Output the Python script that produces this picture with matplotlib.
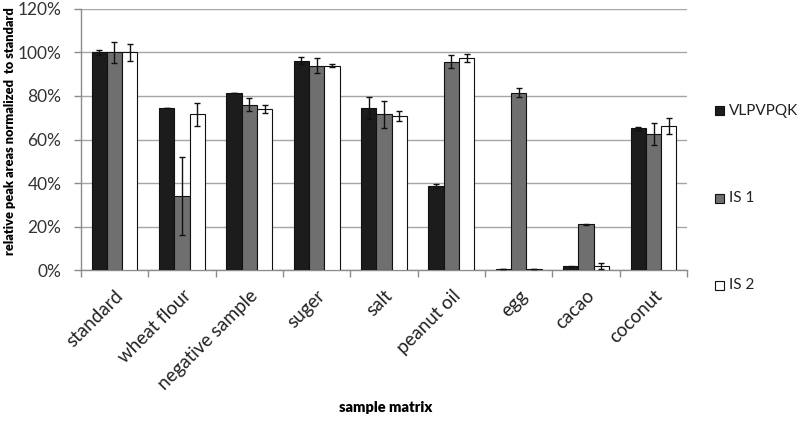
import matplotlib
matplotlib.use("Agg")
import matplotlib.pyplot as plt
import numpy as np
from matplotlib.ticker import FuncFormatter, FixedLocator

categories = ["standard", "wheat flour", "negative sample", "suger", "salt",
              "peanut oil", "egg", "cacao", "coconut"]
series_names = ["VLPVPQK", "IS 1", "IS 2"]
vlpvpqk = [100, 74.5, 81.5, 96.2, 74.5, 38.5, 0.3, 1.8, 65.2]
vlpvpqk_err = [1.0, 0, 0, 1.5, 5.0, 1.0, 0, 0.3, 0.7]
is1 = [100, 34.0, 76.0, 94.0, 71.5, 95.7, 81.5, 21.0, 62.5]
is1_err = [5.0, 18.0, 3.0, 3.6, 6.0, 3.0, 2.0, 0.2, 5.0]
is2 = [100, 71.5, 74.0, 94.0, 70.8, 97.5, 0.5, 1.8, 66.3]
is2_err = [4.0, 5.5, 2.0, 0.5, 2.5, 1.7, 0.2, 1.5, 3.8]
yticks = [0, 20, 40, 60, 80, 100, 120]

colors = ["#1c1c1c", "#6f6f6f", "#ffffff"]
plt.rcParams['font.family'] = ["Lato", 'DejaVu Sans']

fig = plt.figure(figsize=(8, 4.26), dpi=100)
ax = fig.add_axes([0.101, 0.366, 0.758, 0.613])

x = np.arange(len(categories))
w = 0.227
vals = [vlpvpqk, is1, is2]
errs = [vlpvpqk_err, is1_err, is2_err]
for i in range(3):
    ax.bar(x + (i - 1) * w, vals[i], w, color=colors[i], edgecolor="#111111",
           linewidth=0.8, label=series_names[i], zorder=3,
           yerr=errs[i], error_kw=dict(ecolor="#111111", elinewidth=1.0,
                                       capsize=2.5, capthick=1.0, zorder=4))

ax.set_xlim(-0.5, len(categories) - 0.5)
ax.set_ylim(0, 120)
ax.set_yticks(yticks)
ax.yaxis.set_major_formatter(FuncFormatter(lambda v, p: f"{int(v)}%"))
ax.grid(axis="y", color="#a6a6a6", linewidth=1.0, zorder=0)
ax.set_axisbelow(True)

ax.set_xticks(x)
ax.set_xticklabels(categories, rotation=45, ha="right", va="top",
                   rotation_mode="anchor", fontsize=13.5)
ax.tick_params(axis="x", length=0, pad=12)
ax.xaxis.set_minor_locator(FixedLocator(np.arange(-0.5, len(categories), 1.0)))
ax.tick_params(axis="x", which="minor", length=5, color="#8c8c8c", width=1)
ax.tick_params(axis="y", length=5, color="#8c8c8c", width=1, labelsize=12.5,
               labelcolor="#333333", pad=9)
for lbl in ax.get_xticklabels():
    lbl.set_color("#222222")

for s in ["top", "right"]:
    ax.spines[s].set_visible(False)
for s in ["left", "bottom"]:
    ax.spines[s].set_color("#8c8c8c")
    ax.spines[s].set_linewidth(1.0)

fig.text(0.013, 1 - 131 / 426, "relative peak areas normalized  to standard",
         fontsize=9.2, fontweight="heavy", rotation=90, ha="center", va="center")
fig.text(0.4825, 1 - 408 / 426, "sample matrix", fontsize=10.5, fontweight="heavy",
         ha="center", va="center")

# legend entries placed individually
legend_y = [110.7, 198, 285]
for i in range(3):
    yfig = 1 - legend_y[i] / 426
    fig.patches.append(plt.Rectangle((715 / 800, yfig - 4.5 / 426), 9 / 800, 9 / 426,
                                     transform=fig.transFigure, facecolor=colors[i],
                                     edgecolor="#111111", linewidth=0.8))
    fig.text(729 / 800, yfig, series_names[i], fontsize=11, va="center", ha="left",
             color="#222222")

fig.savefig("out.png", dpi=100)
